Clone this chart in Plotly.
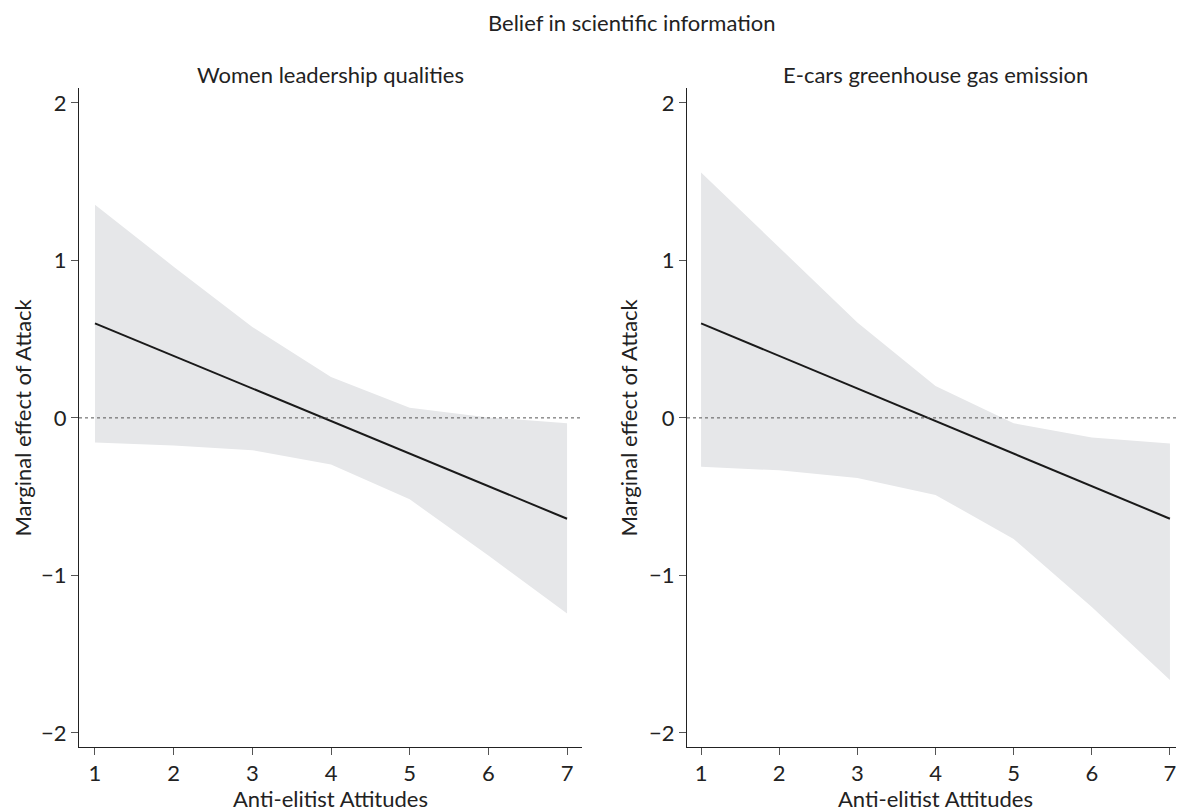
import plotly.graph_objects as go

x_vals = [1, 2, 3, 4, 5, 6, 7]

# Panel 1: Women leadership qualities
women_effect = [0.60, 0.393, 0.187, -0.020, -0.227, -0.433, -0.64]
women_upper = [1.353, 0.96, 0.577, 0.259, 0.065, 0.003, -0.034]
women_lower = [-0.156, -0.176, -0.205, -0.296, -0.517, -0.873, -1.242]

# Panel 2: E-cars greenhouse gas emission
ecars_effect = [0.60, 0.393, 0.187, -0.020, -0.227, -0.433, -0.64]
ecars_upper = [1.558, 1.08, 0.606, 0.202, -0.034, -0.125, -0.162]
ecars_lower = [-0.31, -0.333, -0.381, -0.489, -0.768, -1.20, -1.663]

panel_titles = ["Women leadership qualities", "E-cars greenhouse gas emission"]
main_title = "Belief in scientific information"
x_title = "Anti-elitist Attitudes"
y_title = "Marginal effect of Attack"
y_ticks = [-2, -1, 0, 1, 2]
y_ticktext = ["\u22122", "\u22121", "0", "1", "2"]

FONT = "Lato"
FS = 22
TXT = "#222222"
BAND = "#e6e7e9"

fig = go.Figure()

panels = [
    (women_effect, women_upper, women_lower, "x", "y"),
    (ecars_effect, ecars_upper, ecars_lower, "x2", "y2"),
]
for eff, up, lo, xa, ya in panels:
    fig.add_trace(go.Scatter(x=x_vals, y=up, mode="lines", line=dict(width=0, color=BAND),
                             xaxis=xa, yaxis=ya, showlegend=False, hoverinfo="skip"))
    fig.add_trace(go.Scatter(x=x_vals, y=lo, mode="lines", line=dict(width=0, color=BAND),
                             fill="tonexty", fillcolor=BAND,
                             xaxis=xa, yaxis=ya, showlegend=False, hoverinfo="skip"))
    fig.add_trace(go.Scatter(x=x_vals, y=eff, mode="lines", line=dict(width=2, color="#1a1a1a"),
                             xaxis=xa, yaxis=ya, showlegend=False))

# page has an 8px body margin, so the figure is 8px smaller and shifted
W, H = 1176, 804
ml, mr, mt, mb = 71, 0, 80, 65
pw = W - ml - mr
d1 = [0, (574 - ml) / pw]
d2 = [(679 - ml) / pw, 1.0]

axis_common = dict(
    showgrid=False, zeroline=False, showline=True, linecolor="#222", linewidth=1,
    ticks="outside", ticklen=7, tickwidth=1, tickcolor="#555", automargin=False,
    tickfont=dict(family=FONT, size=FS, color=TXT),
)
title_font = dict(family=FONT, size=FS, color=TXT)
y_range = [-2.089, 2.094]

annotations = [
    dict(text=main_title, xref="paper", yref="paper", x=0.5, y=1, yshift=66,
         xanchor="center", yanchor="middle", showarrow=False, font=title_font),
]
for i, (dom, xd) in enumerate([(d1, "x domain"), (d2, "x2 domain")]):
    annotations.append(dict(text=panel_titles[i], xref=xd, yref="paper", x=0.5, y=1,
                            yshift=14, xanchor="center", yanchor="middle",
                            showarrow=False, font=title_font))
    annotations.append(dict(text=x_title, xref=xd, yref="paper", x=0.5, y=0,
                            yshift=-51, xanchor="center", yanchor="middle",
                            showarrow=False, font=title_font))
    annotations.append(dict(text=y_title, xref=xd, yref="paper", x=0, y=0.5,
                            xshift=(-57 if i == 0 else -59), textangle=-90,
                            xanchor="center", yanchor="middle",
                            showarrow=False, font=title_font))

fig.update_layout(
    width=W, height=H,
    margin=dict(l=ml, r=mr, t=mt, b=mb),
    paper_bgcolor="white", plot_bgcolor="white",
    font=dict(family=FONT, color=TXT),
    xaxis=dict(domain=d1, range=[0.797, 7.19], tickvals=x_vals, anchor="y", **axis_common),
    yaxis=dict(domain=[0, 1], range=y_range, tickvals=y_ticks, ticktext=y_ticktext,
               anchor="x", **axis_common),
    xaxis2=dict(domain=d2, range=[0.82, 7.18], tickvals=x_vals, anchor="y2", **axis_common),
    yaxis2=dict(domain=[0, 1], range=y_range, tickvals=y_ticks, ticktext=y_ticktext,
                anchor="x2", **axis_common),
    shapes=[
        dict(type="line", xref="x domain", yref="y", x0=0, x1=1, y0=0, y1=0,
             line=dict(color="#555", width=1, dash="dot")),
        dict(type="line", xref="x2 domain", yref="y2", x0=0, x1=1, y0=0, y1=0,
             line=dict(color="#555", width=1, dash="dot")),
    ],
    annotations=annotations,
)

fig.write_html("out.html")
